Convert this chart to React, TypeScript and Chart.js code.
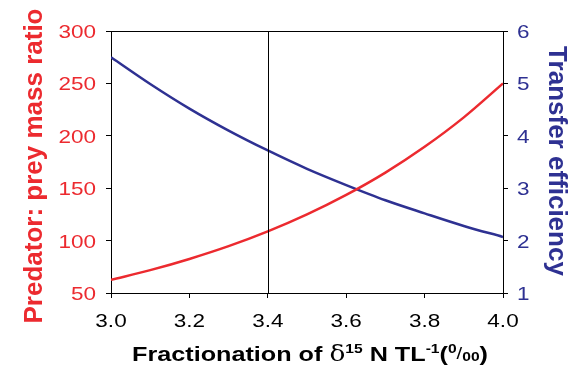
import React, { useEffect, useRef } from 'react';
import { Chart, registerables } from 'chart.js';

Chart.register(...registerables);

// Data
const fractionation = [3.0, 3.1, 3.2, 3.3, 3.4, 3.5, 3.6, 3.7, 3.8, 3.9, 4.0];
const massRatio = [62.5, 71.8, 82.5, 94.7, 108.8, 125.0, 143.6, 164.9, 189.5, 217.6, 250.0];
const transferEff = [5.5, 4.99, 4.52, 4.1, 3.72, 3.37, 3.06, 2.77, 2.52, 2.28, 2.07];
const xTicks = [3.0, 3.2, 3.4, 3.6, 3.8, 4.0];
const leftTicks = [50, 100, 150, 200, 250, 300];
const rightTicks = [1, 2, 3, 4, 5, 6];
const refLineX = [3.4];

const RED = '#ec2a2f';
const BLUE = '#2e3192';
const SANS = '"Liberation Sans", Arial, Helvetica, sans-serif';
const STRETCH = 1.25;
const TICK_FONT = `18px ${SANS}`;

function stretchedText(ctx: any, text: string, x: number, y: number, align: 'left' | 'right' | 'center', s: number) {
  const w = ctx.measureText(text).width * s;
  let left = x;
  if (align === 'right') left = x - w;
  else if (align === 'center') left = x - w / 2;
  ctx.save();
  ctx.translate(left, y);
  ctx.scale(s, 1);
  ctx.textAlign = 'left';
  ctx.fillText(text, 0, 0);
  ctx.restore();
}

const frameAndTitlePlugin = {
  id: 'frameAndTitle',
  afterDatasetsDraw(chart: any) {
    const { ctx, chartArea, scales } = chart;
    ctx.save();
    ctx.strokeStyle = '#000';
    ctx.lineWidth = 1;
    refLineX.forEach((v) => {
      const px = Math.round(scales.x.getPixelForValue(v)) + 0.5;
      ctx.beginPath();
      ctx.moveTo(px, chartArea.top);
      ctx.lineTo(px, chartArea.bottom);
      ctx.stroke();
    });
    ctx.beginPath();
    ctx.moveTo(chartArea.left, Math.round(chartArea.top) + 0.5);
    ctx.lineTo(chartArea.right, Math.round(chartArea.top) + 0.5);
    ctx.stroke();
    ctx.restore();
  },
  afterDraw(chart: any) {
    const { ctx, chartArea, scales } = chart;
    ctx.save();
    ctx.textBaseline = 'alphabetic';

    // tick labels
    ctx.font = TICK_FONT;
    ctx.fillStyle = '#000';
    scales.x.ticks.forEach((t: any) => {
      const px = scales.x.getPixelForValue(t.value);
      stretchedText(ctx, Number(t.value).toFixed(1), px, chartArea.bottom + 34, 'center', STRETCH);
    });
    ctx.fillStyle = RED;
    scales.y.ticks.forEach((t: any) => {
      const py = scales.y.getPixelForValue(t.value);
      stretchedText(ctx, String(t.value), chartArea.left - 15, py + 7, 'right', STRETCH);
    });
    ctx.fillStyle = BLUE;
    scales.y2.ticks.forEach((t: any) => {
      const py = scales.y2.getPixelForValue(t.value);
      stretchedText(ctx, String(t.value), chartArea.right + 14, py + 7, 'left', STRETCH);
    });

    // left axis title
    const midY = (chartArea.top + chartArea.bottom) / 2;
    ctx.save();
    ctx.fillStyle = RED;
    ctx.font = `bold 26px ${SANS}`;
    ctx.translate(42, midY + 4);
    ctx.rotate(-Math.PI / 2);
    ctx.textAlign = 'center';
    ctx.fillText('Predator: prey mass ratio', 0, 0);
    ctx.restore();

    // right axis title
    ctx.save();
    ctx.fillStyle = BLUE;
    ctx.font = `bold 26px ${SANS}`;
    ctx.translate(549, midY - 1);
    ctx.rotate(Math.PI / 2);
    ctx.textAlign = 'center';
    ctx.fillText('Transfer efficiency', 0, 0);
    ctx.restore();

    // x axis title with super/subscripts
    const big = `bold 21px ${SANS}`;
    const small = `bold 13px ${SANS}`;
    const segs = [
      { t: 'Fractionation of ', f: big, dy: 0 },
      { t: 'δ', f: '22px "DejaVu Serif", "Liberation Serif", serif', dy: 0 },
      { t: '15', f: small, dy: -8 },
      { t: ' N TL', f: big, dy: 0 },
      { t: '-1', f: small, dy: -8 },
      { t: '(', f: big, dy: 0 },
      { t: '0', f: small, dy: -8 },
      { t: '/', f: `17px ${SANS}`, dy: -2 },
      { t: '00', f: small, dy: 0 },
      { t: ')', f: big, dy: 0 },
    ];
    const s = 1.2;
    ctx.fillStyle = '#000';
    ctx.textAlign = 'left';
    let total = 0;
    const widths = segs.map((sg) => {
      ctx.font = sg.f;
      const w = ctx.measureText(sg.t).width * s;
      total += w;
      return w;
    });
    let x = (chartArea.left + chartArea.right) / 2 + 3 - total / 2;
    const baseY = 361;
    segs.forEach((sg, i) => {
      ctx.font = sg.f;
      stretchedText(ctx, sg.t, x, baseY + sg.dy, 'left', s);
      x += widths[i];
    });
    ctx.restore();
  },
};

export default function App() {
  const ref = useRef<HTMLCanvasElement | null>(null);

  useEffect(() => {
    if (!ref.current) return;
    const axisGrid = { drawOnChartArea: false, drawTicks: true, tickLength: 5, color: '#000' };
    const chart = new Chart(ref.current, {
      type: 'line',
      data: {
        datasets: [
          {
            label: 'Predator: prey mass ratio',
            data: fractionation.map((x, i) => ({ x, y: massRatio[i] })),
            borderColor: RED,
            borderWidth: 2.5,
            pointRadius: 0,
            cubicInterpolationMode: 'monotone',
            yAxisID: 'y',
          },
          {
            label: 'Transfer efficiency',
            data: fractionation.map((x, i) => ({ x, y: transferEff[i] })),
            borderColor: BLUE,
            borderWidth: 2.5,
            pointRadius: 0,
            cubicInterpolationMode: 'monotone',
            yAxisID: 'y2',
          },
        ],
      },
      options: {
        animation: false,
        responsive: false,
        maintainAspectRatio: false,
        layout: { padding: { top: 31, left: 0, right: 0, bottom: 0 } },
        plugins: { legend: { display: false }, tooltip: { enabled: false } },
        scales: {
          x: {
            type: 'linear',
            min: 3.0,
            max: 4.0,
            afterBuildTicks: (sc: any) => {
              sc.ticks = xTicks.map((v) => ({ value: v }));
            },
            afterFit: (sc: any) => {
              sc.height = 75;
            },
            ticks: { display: false },
            grid: axisGrid,
            border: { color: '#000', width: 1 },
          },
          y: {
            type: 'linear',
            position: 'left',
            min: 50,
            max: 300,
            afterBuildTicks: (sc: any) => {
              sc.ticks = leftTicks.map((v) => ({ value: v }));
            },
            afterFit: (sc: any) => {
              sc.width = 111;
            },
            ticks: { display: false },
            grid: axisGrid,
            border: { color: '#000', width: 1 },
          },
          y2: {
            type: 'linear',
            position: 'right',
            min: 1,
            max: 6,
            afterBuildTicks: (sc: any) => {
              sc.ticks = rightTicks.map((v) => ({ value: v }));
            },
            afterFit: (sc: any) => {
              sc.width = 79;
            },
            ticks: { display: false },
            grid: axisGrid,
            border: { color: '#000', width: 1 },
          },
        },
      },
      plugins: [frameAndTitlePlugin],
    } as any);
    return () => chart.destroy();
  }, []);

  return (
    <div style={{ position: 'absolute', left: 0, top: 0, width: 582, height: 368, background: '#fff' }}>
      <canvas ref={ref} width={582} height={368} style={{ width: 582, height: 368, display: 'block' }} />
    </div>
  );
}
